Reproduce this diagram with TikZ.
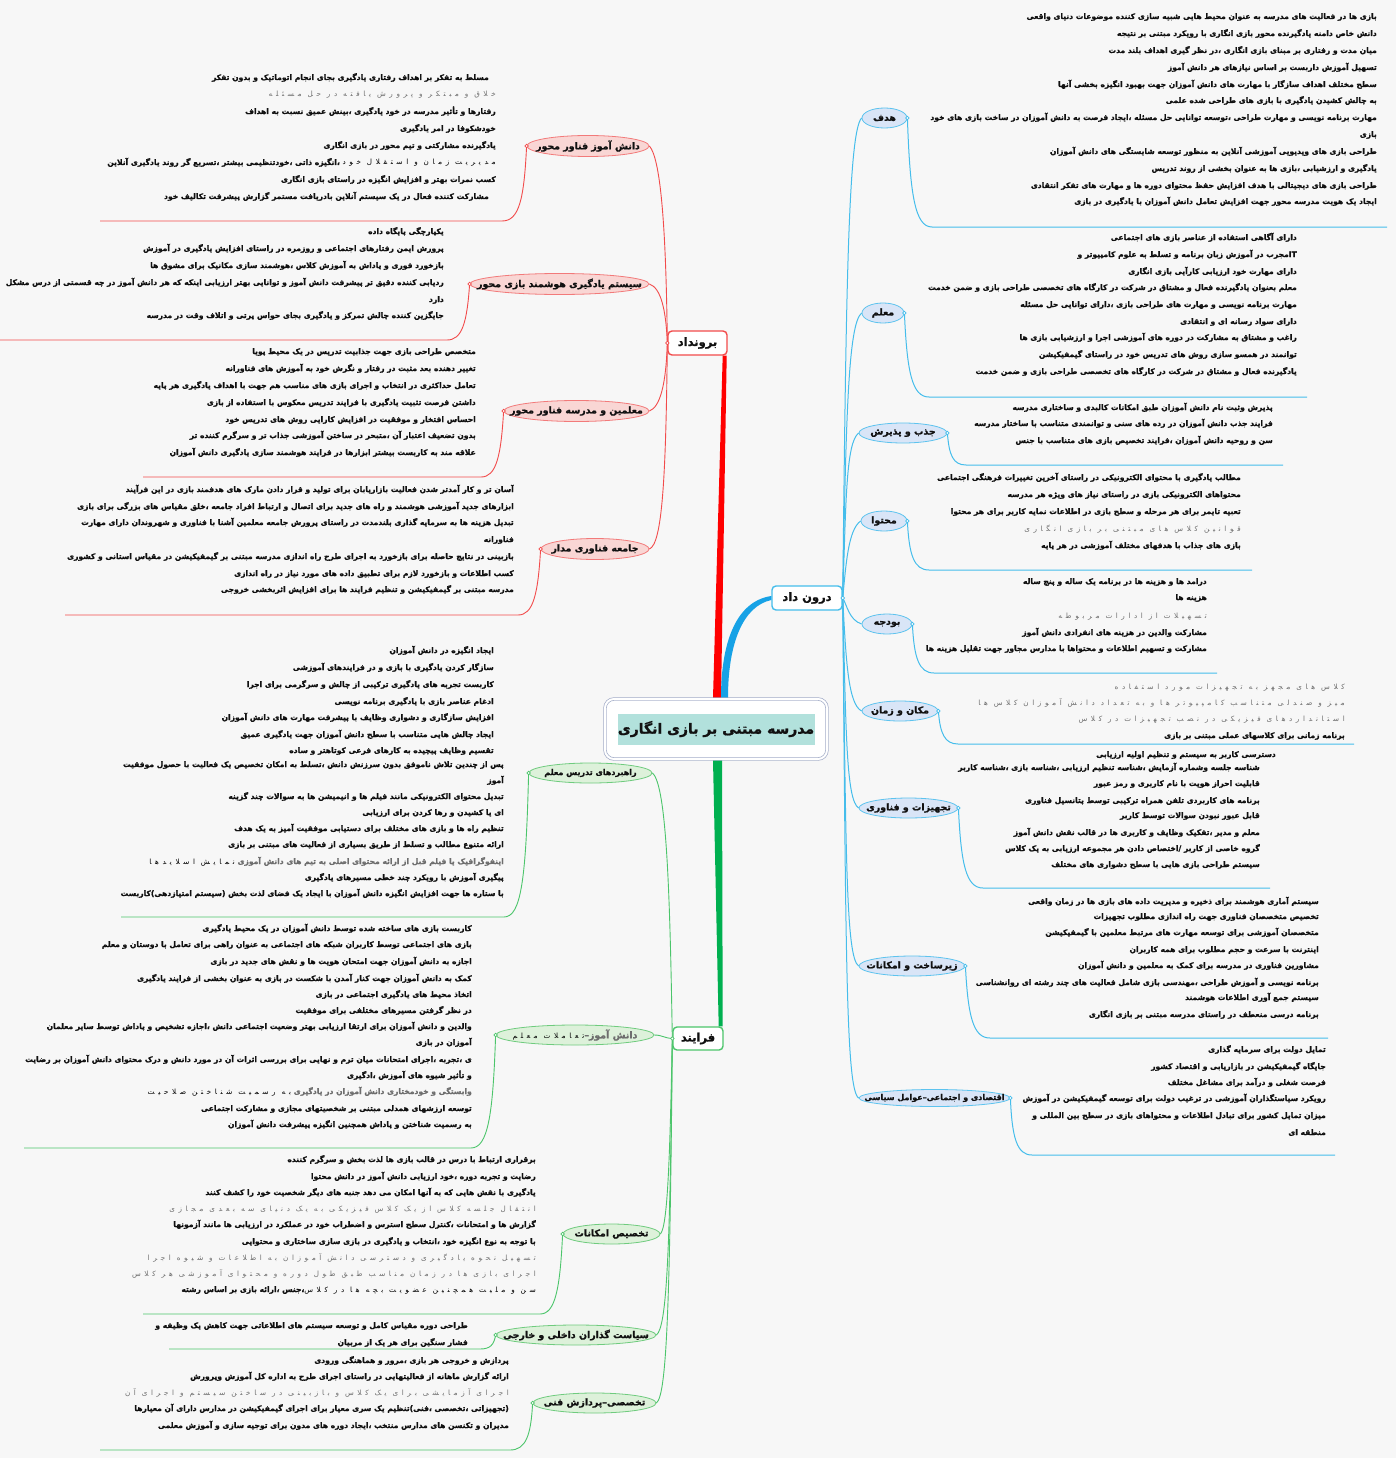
\documentclass[tikz,border=0pt]{standalone}
\usepackage{fontspec}
\usetikzlibrary{shapes.geometric}
\TeXXeTstate=1
\newfontfamily\fa[Script=Arabic,BoldFeatures={FakeBold=1.2}]{DejaVu Sans}
\newfontfamily\fagr[Script=Arabic,LetterSpace=50]{DejaVu Sans}
\newcommand\bodyf{\fa\bfseries\fontsize{7.6}{9}\selectfont}
\newcommand\grf{\fagr\mdseries\fontsize{7.2}{9}\selectfont}
\newcommand\labf{\fa\bfseries\fontsize{9.4}{10}\selectfont}
\newcommand\slabf{\fa\bfseries\fontsize{8}{9}\selectfont}
\newcommand\boxf{\fa\bfseries\fontsize{11.5}{12}\selectfont}
\newcommand\ttlf{\fa\bfseries\fontsize{14}{16}\selectfont}
\definecolor{bg}{HTML}{F7F7F7}
\definecolor{cRl}{HTML}{F24B4B}
\definecolor{cRt}{HTML}{FF0000}
\definecolor{cRf}{HTML}{F9D6D4}
\definecolor{cRb}{HTML}{F27A7A}
\definecolor{cBl}{HTML}{45BDEB}
\definecolor{cBt}{HTML}{17A2E6}
\definecolor{cBf}{HTML}{D9E5F7}
\definecolor{cBb}{HTML}{5DC3EE}
\definecolor{cGl}{HTML}{4CC56B}
\definecolor{cGt}{HTML}{00B050}
\definecolor{cGf}{HTML}{DDF1DA}
\definecolor{cGb}{HTML}{6FCB7E}
\definecolor{cCb}{HTML}{A3ADC8}
\definecolor{cTl}{HTML}{B2E1DC}
\definecolor{txt}{HTML}{111111}
\definecolor{txtg}{HTML}{6E6E6E}
\newcommand\gr[1]{{\grf\color{txtg}#1}}
\newcommand\Tx[4]{\node[tline] (#1) at (#2,#3) {#4};}
\newcommand\Gx[4]{\node[tline,grline] (#1) at (#2,#3) {#4};}
\tikzset{
  tline/.style={anchor=east, inner sep=0pt, text height=6.5pt, text depth=2.5pt, font=\bodyf, text=txt},
  grline/.style={font=\grf, text=txtg},
  elab/.style={inner sep=0pt, font=\labf, text=txt},
  rell/.style={ellipse, draw=cRb, fill=cRf, line width=0.8pt, inner sep=0pt, minimum height=21pt},
  bell/.style={ellipse, draw=cBb, fill=cBf, line width=0.8pt, inner sep=0pt, minimum height=20pt},
  gell/.style={ellipse, draw=cGb, fill=cGf, line width=0.8pt, inner sep=0pt, minimum height=20pt},
  rthin/.style={draw=cRl, line width=0.9pt},
  bthin/.style={draw=cBl, line width=1pt},
  gthin/.style={draw=cGl, line width=0.9pt},
  brbox/.style={draw, fill=white, rounded corners=4pt, line width=1.4pt, inner sep=0pt, font=\boxf, text=txt},
  dot/.style={fill=white, line width=0.7pt}
}
\begin{document}
\begin{tikzpicture}[x=1pt,y=-1pt]
\useasboundingbox (0,0) rectangle (1396,1458);
\fill[bg] (0,0) rectangle (1396,1458);

% ---------- main boxes ----------
\node[brbox, draw=cRl, minimum width=59pt, minimum height=24pt] (B) at (697.5,343) {\beginR برونداد\endR};
\node[brbox, draw=cBl, minimum width=70pt, minimum height=24pt] (D) at (807,598) {\beginR درون داد\endR};
\node[brbox, draw=cGl, minimum width=50pt, minimum height=23pt] (F) at (698,1038.5) {\beginR فرایند\endR};
\coordinate (ctrpos) at (716,729);
\path (ctrpos) node[minimum width=224pt, minimum height=62pt, inner sep=0pt] (ctr0) {};
\fill[cRt] ([xshift=-5pt]B.south east) -- ([xshift=-1pt]B.south east) -- ([xshift=5pt]ctr0.north) -- ([xshift=-3pt]ctr0.north) -- cycle;
\fill[cBt] ([xshift=5pt]ctr0.north) .. controls +(0,-58) and +(-34,5) .. ([yshift=2pt]D.west) -- ([yshift=-2pt]D.west) .. controls +(-28,6) and +(0,-55) .. ([xshift=12pt]ctr0.north) -- cycle;
\fill[cGt] ([xshift=-3pt]ctr0.south) -- ([xshift=6pt]ctr0.south) -- ([xshift=-1pt]F.north east) -- ([xshift=-5pt]F.north east) -- cycle;
\node[draw=cCb, double=white, double distance=2pt, line width=0.7pt, rounded corners=9pt, fill=white, minimum width=222pt, minimum height=60pt, inner sep=0pt] (ctr) at (ctrpos) {};
\node[fill=cTl, minimum width=197pt, minimum height=31pt, inner sep=0pt, font=\ttlf, text=txt] (ttl) at (ctrpos) {\beginR مدرسه مبتنی بر بازی انگاری\endR};

% ---------- ellipses ----------
\node[rell, minimum width=122pt] (r1) at (588,146) {};
\node[rell, minimum width=179pt] (r2) at (559.5,284) {};
\node[rell, minimum width=145pt] (r3) at (576.5,411) {};
\node[rell, minimum width=108pt] (r4) at (595,549) {};
\node[bell, minimum width=45pt] (b1) at (884.5,118) {};
\node[bell, minimum width=42pt] (b2) at (883,313) {};
\node[bell, minimum width=88pt] (b3) at (903,433) {};
\node[bell, minimum width=46pt] (b4) at (884,521) {};
\node[bell, minimum width=50pt] (b5) at (887,624) {};
\node[bell, minimum width=76pt] (b6) at (900,711) {};
\node[bell, minimum width=99pt] (b7) at (908.5,808) {};
\node[bell, minimum width=106pt] (b8) at (912,966) {};
\node[bell, minimum width=151pt, minimum height=17pt] (b9) at (934.5,1098) {};
\node[gell, minimum width=123pt] (g1) at (590.5,773) {};
\node[gell, minimum width=158pt] (g2) at (575,1035) {};
\node[gell, minimum width=97pt] (g3) at (611.5,1234) {};
\node[gell, minimum width=160pt] (g4) at (576,1335) {};
\node[gell, minimum width=123pt] (g5) at (594.5,1403) {};

% ---------- connectors from branch boxes ----------
\draw[rthin] (B.west) .. controls (666,220) and (660,158) .. (r1.east);
\draw[rthin] (B.west) .. controls (666,310) and (661,288) .. (r2.east);
\draw[rthin] (B.west) .. controls (666,385) and (660,407) .. (r3.east);
\draw[rthin] (B.west) .. controls (666,480) and (662,544) .. (r4.east);
\draw[bthin] (D.east) .. controls (846,300) and (848,132) .. (b1.west);
\draw[bthin] (D.east) .. controls (846,420) and (848,324) .. (b2.west);
\draw[bthin] (D.east) .. controls (846,500) and (846,443) .. (b3.west);
\draw[bthin] (D.east) .. controls (846,565) and (848,530) .. (b4.west);
\draw[bthin] (D.east) .. controls (847,605) and (849,620) .. (b5.west);
\draw[bthin] (D.east) .. controls (846,660) and (848,704) .. (b6.west);
\draw[bthin] (D.east) .. controls (846,730) and (846,800) .. (b7.west);
\draw[bthin] (D.east) .. controls (846,860) and (846,957) .. (b8.west);
\draw[bthin] (D.east) .. controls (846,960) and (846,1089) .. (b9.west);
\draw[gthin] (F.west) .. controls (670,900) and (667,785) .. (g1.east);
\draw[gthin] (F.west) .. controls (664,1038) and (662,1035) .. (g2.east);
\draw[gthin] (F.west) .. controls (670,1150) and (668,1226) .. (g3.east);
\draw[gthin] (F.west) .. controls (670,1250) and (667,1327) .. (g4.east);
\draw[gthin] (F.west) .. controls (670,1300) and (667,1395) .. (g5.east);

% ---------- tails (underlines) ----------
\coordinate (r1u) at (100,221); \coordinate (r2u) at (0,340);
\coordinate (r3u) at (143,477); \coordinate (r4u) at (65,615);
\draw[rthin] (r1.west) .. controls (524,200) and (519,221) .. (502,221) -- (r1u);
\draw[rthin] (r2.west) .. controls (467,323) and (462,340) .. (447,340) -- (r2u);
\draw[rthin] (r3.west) .. controls (501,457) and (496,477) .. (481,477) -- (r3u);
\draw[rthin] (r4.west) .. controls (538,595) and (533,615) .. (518,615) -- (r4u);
\coordinate (b1u) at (1387,227); \coordinate (b2u) at (1307,397);
\coordinate (b3u) at (1283,465); \coordinate (b4u) at (1252,570);
\coordinate (b5u) at (1217,673); \coordinate (b6u) at (1354,744);
\coordinate (b7u) at (1270,888); \coordinate (b8u) at (1328,1038);
\coordinate (b9u) at (1335,1155);
\draw[bthin] (b1.east) .. controls (910,195) and (915,227) .. (932,227) -- (b1u);
\draw[bthin] (b2.east) .. controls (907,372) and (912,397) .. (929,397) -- (b2u);
\draw[bthin] (b3.east) .. controls (949,455) and (953,465) .. (966,465) -- (b3u);
\draw[bthin] (b4.east) .. controls (909,555) and (914,570) .. (929,570) -- (b4u);
\draw[bthin] (b5.east) .. controls (914,658) and (919,673) .. (934,673) -- (b5u);
\draw[bthin] (b6.east) .. controls (940,734) and (945,744) .. (958,744) -- (b6u);
\draw[bthin] (b7.east) .. controls (961,864) and (966,888) .. (983,888) -- (b7u);
\draw[bthin] (b8.east) .. controls (968,1016) and (973,1038) .. (990,1038) -- (b8u);
\draw[bthin] (b9.east) .. controls (1012,1138) and (1017,1155) .. (1032,1155) -- (b9u);
\coordinate (g1u) at (121,917); \coordinate (g2u) at (24,1148);
\coordinate (g3u) at (143,1314); \coordinate (g4u) at (169,1349);
\coordinate (g5u) at (100,1450);
\draw[gthin] (g1.west) .. controls (526,880) and (521,917) .. (504,917) -- (g1u);
\draw[gthin] (g2.west) .. controls (493,1115) and (488,1148) .. (471,1148) -- (g2u);
\draw[gthin] (g3.west) .. controls (560,1290) and (555,1314) .. (540,1314) -- (g3u);
\draw[gthin] (g4.west) .. controls (494,1345) and (490,1349) .. (480,1349) -- (g4u);
\draw[gthin] (g5.west) .. controls (531,1435) and (526,1450) .. (510,1450) -- (g5u);

\foreach \n in {r1,r2,r3,r4} {\draw[dot,draw=cRl] (\n.west) circle (1.8pt);}
\foreach \n in {b1,b2,b3,b4,b5,b6,b7,b8,b9} {\draw[dot,draw=cBl] (\n.east) circle (1.8pt);}
\foreach \n in {g1,g2,g3,g4,g5} {\draw[dot,draw=cGl] (\n.west) circle (1.8pt);}
\draw[dot,draw=cRl] (B.west) circle (1.8pt);
\draw[dot,draw=cBl] (D.east) circle (1.8pt);
\draw[dot,draw=cGl] (F.west) circle (1.8pt);

% ---------- ellipse labels ----------
\node[elab] (r1t) at (r1.center) {\beginR دانش آموز فناور محور\endR};
\node[elab] (r2t) at (r2.center) {\beginR سیستم یادگیری هوشمند بازی محور\endR};
\node[elab] (r3t) at (r3.center) {\beginR معلمین و مدرسه فناور محور\endR};
\node[elab] (r4t) at (r4.center) {\beginR جامعه فناوری مدار\endR};
\node[elab] (b1t) at (b1.center) {\beginR هدف\endR};
\node[elab] (b2t) at (b2.center) {\beginR معلم\endR};
\node[elab] (b3t) at (b3.center) {\beginR جذب و پذیرش\endR};
\node[elab] (b4t) at (b4.center) {\beginR محتوا\endR};
\node[elab] (b5t) at (b5.center) {\beginR بودجه\endR};
\node[elab] (b6t) at (b6.center) {\beginR مکان و زمان\endR};
\node[elab] (b7t) at (b7.center) {\beginR تجهیزات و فناوری\endR};
\node[elab] (b8t) at (b8.center) {\beginR زیرساخت و امکانات\endR};
\node[elab, font=\slabf] (b9t) at (b9.center) {\beginR اقتصادی و اجتماعی\hbox{–}عوامل سیاسی\endR};
\node[elab, font=\slabf] (g1t) at (g1.center) {\beginR راهبردهای تدریس معلم\endR};
\node[elab] (g2t) at (g2.center) {\beginR دانش آموز\hbox{–}{\gr{تعاملات معلم}}\endR};
\node[elab] (g3t) at (g3.center) {\beginR تخصیص امکانات\endR};
\node[elab] (g4t) at (g4.center) {\beginR سیاست گذاران داخلی و خارجی\endR};
\node[elab] (g5t) at (g5.center) {\beginR تخصصی\hbox{–}پردازش فنی\endR};

% ---------- red texts ----------
\Tx{r1a}{489}{78}{\beginR مسلط به تفکر بر اهداف رفتاری یادگیری بجای انجام اتوماتیک و بدون تفکر\endR}
\Gx{r1b}{496}{95}{\beginR خلاق و مبتکر و پرورش یافته در حل مسئله\endR}
\Tx{r1c}{496}{112}{\beginR رفتارها و تأثیر مدرسه در خود یادگیری ،بینش عمیق نسبت به اهداف\endR}
\Tx{r1d}{496}{129}{\beginR خودشکوفا در امر یادگیری\endR}
\Tx{r1e}{496}{146}{\beginR یادگیرنده مشارکتی و تیم محور در بازی انگاری\endR}
\Tx{r1f}{496}{163}{\beginR \gr{مدیریت زمان و استقلال خود} ،انگیزه ذاتی ،خودتنظیمی بیشتر ،تسریع گر روند یادگیری آنلاین\endR}
\Tx{r1g}{496}{180}{\beginR کسب نمرات بهتر و افزایش انگیزه در راستای بازی انگاری\endR}
\Tx{r1h}{489}{197}{\beginR مشارکت کننده فعال در یک سیستم آنلاین بادریافت مستمر گزارش پیشرفت تکالیف خود\endR}

\Tx{r2a}{444}{232}{\beginR یکپارچگی پایگاه داده\endR}
\Tx{r2b}{444}{249}{\beginR پرورش ایمن رفتارهای اجتماعی و روزمره در راستای افزایش یادگیری در آموزش\endR}
\Tx{r2c}{444}{266}{\beginR بازخورد فوری و پاداش به آموزش کلاس ،هوشمند سازی مکانیک برای مشوق ها\endR}
\Tx{r2d}{444}{283}{\beginR ردیابی کننده دقیق تر پیشرفت دانش آموز و توانایی بهتر ارزیابی اینکه که هر دانش آموز در چه قسمتی از درس مشکل\endR}
\Tx{r2e}{444}{300}{\beginR دارد\endR}
\Tx{r2f}{444}{316}{\beginR جایگزین کننده چالش تمرکز و یادگیری بجای حواس پرتی و اتلاف وقت در مدرسه\endR}

\Tx{r3a}{476}{352}{\beginR متخصص طراحی بازی جهت جذابیت تدریس در یک محیط پویا\endR}
\Tx{r3b}{476}{369}{\beginR تغییر دهنده بعد مثبت در رفتار و نگرش خود به آموزش های فناورانه\endR}
\Tx{r3c}{476}{386}{\beginR تعامل حداکثری در انتخاب و اجرای بازی های مناسب هم جهت با اهداف یادگیری هر پایه\endR}
\Tx{r3d}{476}{403}{\beginR داشتن فرصت تثبیت یادگیری با فرایند تدریس معکوس با استفاده از بازی\endR}
\Tx{r3e}{476}{420}{\beginR احساس افتخار و موفقیت در افزایش کارایی روش های تدریس خود\endR}
\Tx{r3f}{476}{436}{\beginR بدون تضعیف اعتبار آن ،متبحر در ساختن آموزشی جذاب تر و سرگرم کننده تر\endR}
\Tx{r3g}{476}{453}{\beginR علاقه مند به کاربست بیشتر ابزارها در فرایند هوشمند سازی یادگیری دانش آموزان\endR}

\Tx{r4a}{514}{490}{\beginR آسان تر و کار آمدتر شدن فعالیت بازاریابان برای تولید و قرار دادن مارک های هدفمند بازی در این فرآیند\endR}
\Tx{r4b}{514}{507}{\beginR ابزارهای جدید آموزشی هوشمند و راه های جدید برای اتصال و ارتباط افراد جامعه ،خلق مقیاس های بزرگی برای بازی\endR}
\Tx{r4c}{514}{523}{\beginR تبدیل هزینه ها به سرمایه گذاری بلندمدت در راستای پرورش جامعه معلمین آشنا با فناوری و شهروندان دارای مهارت\endR}
\Tx{r4d}{514}{540}{\beginR فناورانه\endR}
\Tx{r4e}{514}{557}{\beginR بازبینی در نتایج حاصله برای بازخورد به اجرای طرح راه اندازی مدرسه مبتنی بر گیمفیکیشن در مقیاس استانی و کشوری\endR}
\Tx{r4f}{514}{574}{\beginR کسب اطلاعات و بازخورد لازم برای تطبیق داده های مورد نیاز در راه اندازی\endR}
\Tx{r4g}{514}{590}{\beginR مدرسه مبتنی بر گیمفیکیشن و تنظیم فرایند ها برای افزایش اثربخشی خروجی\endR}

% ---------- blue texts ----------
\Tx{b1a}{1377}{17}{\beginR بازی ها در فعالیت های مدرسه به عنوان محیط هایی شبیه سازی کننده موضوعات دنیای واقعی\endR}
\Tx{b1b}{1377}{34}{\beginR دانش خاص دامنه یادگیرنده محور بازی انگاری با رویکرد مبتنی بر نتیجه\endR}
\Tx{b1c}{1377}{51}{\beginR میان مدت و رفتاری بر مبنای بازی انگاری ،در نظر گیری اهداف بلند مدت\endR}
\Tx{b1d}{1377}{68}{\beginR تسهیل آموزش داربست بر اساس نیازهای هر دانش آموز\endR}
\Tx{b1e}{1377}{85}{\beginR سطح مختلف اهداف سازگار با مهارت های دانش آموزان جهت بهبود انگیزه بخشی آنها\endR}
\Tx{b1f}{1377}{101}{\beginR به چالش کشیدن یادگیری با بازی های طراحی شده علمی\endR}
\Tx{b1g}{1377}{118}{\beginR مهارت برنامه نویسی و مهارت طراحی ،توسعه توانایی حل مسئله ،ایجاد فرصت به دانش آموزان در ساخت بازی های خود\endR}
\Tx{b1h}{1377}{135}{\beginR بازی\endR}
\Tx{b1i}{1377}{152}{\beginR طراحی بازی های ویدیویی آموزشی آنلاین به منظور توسعه شایستگی های دانش آموزان\endR}
\Tx{b1j}{1377}{169}{\beginR یادگیری و ارزشیابی ،بازی ها به عنوان بخشی از روند تدریس\endR}
\Tx{b1k}{1377}{186}{\beginR طراحی بازی های دیجیتالی با هدف افزایش حفظ محتوای دوره ها و مهارت های تفکر انتقادی\endR}
\Tx{b1l}{1377}{202}{\beginR ایجاد یک هویت مدرسه محور جهت افزایش تعامل دانش آموزان با یادگیری در بازی\endR}

\Tx{b2a}{1297}{238}{\beginR دارای آگاهی استفاده از عناصر بازی های اجتماعی\endR}
\Tx{b2b}{1297}{255}{\beginR \hbox{IT}مجرب در آموزش زبان برنامه و تسلط به علوم کامپیوتر و\endR}
\Tx{b2c}{1297}{272}{\beginR دارای مهارت خود ارزیابی کارآیی بازی انگاری\endR}
\Tx{b2d}{1297}{288}{\beginR معلم بعنوان یادگیرنده فعال و مشتاق در شرکت در کارگاه های تخصصی طراحی بازی و ضمن خدمت\endR}
\Tx{b2e}{1297}{305}{\beginR مهارت برنامه نویسی و مهارت های طراحی بازی ،دارای توانایی حل مسئله\endR}
\Tx{b2f}{1297}{322}{\beginR دارای سواد رسانه ای و انتقادی\endR}
\Tx{b2g}{1297}{338}{\beginR راغب و مشتاق به مشارکت در دوره های آموزشی اجرا و ارزشیابی بازی ها\endR}
\Tx{b2h}{1297}{355}{\beginR توانمند در همسو سازی روش های تدریس خود در راستای گیمفیکیشن\endR}
\Tx{b2i}{1297}{372}{\beginR یادگیرنده فعال و مشتاق در شرکت در کارگاه های تخصصی طراحی بازی و ضمن خدمت\endR}

\Tx{b3a}{1273}{408}{\beginR پذیرش وثبت نام دانش آموزان طبق امکانات کالبدی و ساختاری مدرسه\endR}
\Tx{b3b}{1273}{424}{\beginR فرایند جذب دانش آموزان در رده های سنی و توانمندی متناسب با ساختار مدرسه\endR}
\Tx{b3c}{1273}{441}{\beginR سن و روحیه دانش آموزان ،فرایند تخصیص بازی های متناسب با جنس\endR}

\Tx{b4a}{1241}{478}{\beginR مطالب یادگیری با محتوای الکترونیکی در راستای آخرین تغییرات فرهنگی اجتماعی\endR}
\Tx{b4b}{1241}{495}{\beginR محتواهای الکترونیکی بازی در راستای نیاز های ویژه هر مدرسه\endR}
\Tx{b4c}{1241}{512}{\beginR تعبیه تایمر برای هر مرحله و سطح بازی در اطلاعات نمایه کاربر برای هر محتوا\endR}
\Gx{b4d}{1241}{529}{\beginR قوانین کلاس های مبتنی بر بازی انگاری\endR}
\Tx{b4e}{1241}{546}{\beginR بازی های جذاب با هدفهای مختلف آموزشی در هر پایه\endR}

\Tx{b5a}{1207}{582}{\beginR درامد ها و هزینه ها در برنامه یک ساله و پنج ساله\endR}
\Tx{b5b}{1207}{598}{\beginR هزینه ها\endR}
\Gx{b5c}{1207}{616}{\beginR تسهیلات از ادارات مربوطه\endR}
\Tx{b5d}{1207}{633}{\beginR مشارکت والدین در هزینه های انفرادی دانش آموز\endR}
\Tx{b5e}{1207}{649}{\beginR مشارکت و تسهیم اطلاعات و محتواها با مدارس مجاور جهت تقلیل هزینه ها\endR}

\Gx{b6a}{1345}{687}{\beginR کلاس های مجهز به تجهیزات مورد استفاده\endR}
\Gx{b6b}{1345}{703}{\beginR میز و صندلی متناسب کامپیوتر ها و به تعداد دانش آموزان کلاس ها\endR}
\Gx{b6c}{1345}{719}{\beginR استانداردهای فیزیکی در نصب تجهیزات در کلاس\endR}
\Tx{b6d}{1345}{736}{\beginR برنامه زمانی برای کلاسهای عملی مبتنی بر بازی\endR}

\Tx{b7a}{1276}{755}{\beginR دسترسی کاربر به سیستم و تنظیم اولیه ارزیابی\endR}
\Tx{b7b}{1260}{768}{\beginR شناسه جلسه وشماره آزمایش ،شناسه تنظیم ارزیابی ،شناسه بازی ،شناسه کاربر\endR}
\Tx{b7c}{1260}{784}{\beginR قابلیت احراز هویت با نام کاربری و رمز عبور\endR}
\Tx{b7d}{1260}{801}{\beginR برنامه های کاربردی تلفن همراه ترکیبی توسط پتانسیل فناوری\endR}
\Tx{b7e}{1260}{816}{\beginR قابل عبور نبودن سوالات توسط کاربر\endR}
\Tx{b7f}{1260}{833}{\beginR معلم و مدیر ،تفکیک وظایف و کاربری ها در قالب نقش دانش آموز\endR}
\Tx{b7g}{1260}{849}{\beginR گروه خاصی از کاربر /اختصاص دادن هر مجموعه ارزیابی به یک کلاس\endR}
\Tx{b7h}{1260}{865}{\beginR سیستم طراحی بازی هایی با سطح دشواری های مختلف\endR}

\Tx{b8a}{1319}{902}{\beginR سیستم آماری هوشمند برای ذخیره و مدیریت داده های بازی ها در زمان واقعی\endR}
\Tx{b8b}{1319}{917}{\beginR تخصیص متخصصان فناوری جهت راه اندازی مطلوب تجهیزات\endR}
\Tx{b8c}{1319}{933}{\beginR متخصصان آموزشی برای توسعه مهارت های مرتبط معلمین با گیمفیکیشن\endR}
\Tx{b8d}{1319}{950}{\beginR اینترنت با سرعت و حجم مطلوب برای همه کاربران\endR}
\Tx{b8e}{1319}{966}{\beginR مشاورین فناوری در مدرسه برای کمک به معلمین و دانش آموزان\endR}
\Tx{b8f}{1319}{983}{\beginR برنامه نویسی و آموزش طراحی ،مهندسی بازی شامل فعالیت های چند رشته ای روانشناسی\endR}
\Tx{b8g}{1319}{998}{\beginR سیستم جمع آوری اطلاعات هوشمند\endR}
\Tx{b8h}{1319}{1015}{\beginR برنامه درسی منعطف در راستای مدرسه مبتنی بر بازی انگاری\endR}

\Tx{b9a}{1326}{1050}{\beginR تمایل دولت برای سرمایه گذاری\endR}
\Tx{b9b}{1326}{1067}{\beginR جایگاه گیمفیکیشن در بازاریابی و اقتصاد کشور\endR}
\Tx{b9c}{1326}{1083}{\beginR فرصت شغلی و درآمد برای مشاغل مختلف\endR}
\Tx{b9d}{1326}{1099}{\beginR رویکرد سیاستگذاران آموزشی در ترغیب دولت برای توسعه گیمفیکیشن در آموزش\endR}
\Tx{b9e}{1326}{1116}{\beginR میزان تمایل کشور برای تبادل اطلاعات و محتواهای بازی در سطح بین المللی و\endR}
\Tx{b9f}{1326}{1133}{\beginR منطقه ای\endR}

% ---------- green texts ----------
\Tx{g1a}{494}{651}{\beginR ایجاد انگیزه در دانش آموزان\endR}
\Tx{g1b}{494}{668}{\beginR سازگار کردن یادگیری با بازی و در فرایندهای آموزشی\endR}
\Tx{g1c}{494}{685}{\beginR کاربست تجربه های یادگیری ترکیبی از چالش و سرگرمی برای اجرا\endR}
\Tx{g1d}{494}{702}{\beginR ادغام عناصر بازی با یادگیری برنامه نویسی\endR}
\Tx{g1e}{494}{718}{\beginR افزایش سازگاری و دشواری وظایف با پیشرفت مهارت های دانش آموزان\endR}
\Tx{g1f}{494}{735}{\beginR ایجاد چالش هایی متناسب با سطح دانش آموزان جهت یادگیری عمیق\endR}
\Tx{g1g}{494}{751}{\beginR تقسیم وظایف پیچیده به کارهای فرعی کوتاهتر و ساده\endR}
\Tx{g1h}{504}{765}{\beginR پس از چندین تلاش ناموفق بدون سرزنش دانش ،تسلط به امکان تخصیص یک فعالیت با حصول موفقیت\endR}
\Tx{g1i}{504}{781}{\beginR آموز\endR}
\Tx{g1j}{504}{797}{\beginR تبدیل محتوای الکترونیکی مانند فیلم ها و انیمیشن ها به سوالات چند گزینه\endR}
\Tx{g1k}{504}{813}{\beginR ای یا کشیدن و رها کردن برای ارزیابی\endR}
\Tx{g1l}{504}{829}{\beginR تنظیم راه ها و بازی های مختلف برای دستیابی موفقیت آمیز به یک هدف\endR}
\Tx{g1m}{504}{845}{\beginR ارائه متنوع مطالب و تسلط از طریق بسیاری از فعالیت های مبتنی بر بازی\endR}
\Tx{g1n}{504}{862}{\beginR اینفوگرافیک یا فیلم قبل از ارائه محتوای اصلی به تیم های دانش آموزی \gr{نمایش اسلایدها}\endR}
\Tx{g1o}{504}{878}{\beginR پیگیری آموزش با رویکرد چند خطی مسیرهای یادگیری\endR}
\Tx{g1p}{504}{894}{\beginR با ستاره ها جهت افزایش انگیزه دانش آموزان با ایجاد یک فضای لذت بخش \hbox{(}سیستم امتیازدهی\hbox{)}کاربست\endR}

\Tx{g2a}{472}{929}{\beginR کاربست بازی های ساخته شده توسط دانش آموزان در یک محیط یادگیری\endR}
\Tx{g2b}{472}{945}{\beginR بازی های اجتماعی توسط کاربران شبکه های اجتماعی به عنوان راهی برای تعامل با دوستان و معلم\endR}
\Tx{g2c}{472}{962}{\beginR اجازه به دانش آموزان جهت امتحان هویت ها و نقش های جدید در بازی\endR}
\Tx{g2d}{472}{979}{\beginR کمک به دانش آموزان جهت کنار آمدن با شکست در بازی به عنوان بخشی از فرایند یادگیری\endR}
\Tx{g2e}{472}{995}{\beginR اتخاذ محیط های یادگیری اجتماعی در بازی\endR}
\Tx{g2f}{472}{1011}{\beginR در نظر گرفتن مسیرهای مختلفی برای موفقیت\endR}
\Tx{g2g}{472}{1027}{\beginR والدین و دانش آموزان برای ارتقا ارزیابی بهتر وضعیت اجتماعی دانش ،اجازه تشخیص و پاداش توسط سایر معلمان\endR}
\Tx{g2h}{472}{1043}{\beginR آموزان در بازی\endR}
\Tx{g2i}{472}{1060}{\beginR ی ،تجربه ،اجرای امتحانات میان ترم و نهایی برای بررسی اثرات آن در مورد دانش و درک محتوای دانش آموزان بر رضایت\endR}
\Tx{g2j}{472}{1076}{\beginR و تأثیر شیوه های آموزش ،ادگیری\endR}
\Tx{g2k}{472}{1092}{\beginR وابستگی و خودمختاری دانش آموزان در یادگیری \gr{به رسمیت شناختن صلاحیت}\endR}
\Tx{g2l}{472}{1109}{\beginR توسعه ارزشهای همدلی مبتنی بر شخصیتهای مجازی و مشارکت اجتماعی\endR}
\Tx{g2m}{472}{1125}{\beginR به رسمیت شناختن و پاداش همچنین انگیزه پیشرفت دانش آموزان\endR}

\Tx{g3a}{536}{1160}{\beginR برقراری ارتباط با درس در قالب بازی ها لذت بخش و سرگرم کننده\endR}
\Tx{g3b}{536}{1177}{\beginR رضایت و تجربه دوره ،خود ارزیابی دانش آموز در دانش محتوا\endR}
\Tx{g3c}{536}{1193}{\beginR یادگیری با نقش هایی که به آنها امکان می دهد جنبه های دیگر شخصیت خود را کشف کنند\endR}
\Gx{g3d}{536}{1209}{\beginR انتقال جلسه کلاس از یک کلاس فیزیکی به یک دنیای سه بعدی مجازی\endR}
\Tx{g3e}{536}{1225}{\beginR گزارش ها و امتحانات ،کنترل سطح استرس و اضطراب خود در عملکرد در ارزیابی ها مانند آزمونها\endR}
\Tx{g3f}{536}{1242}{\beginR با توجه به نوع انگیزه خود ،انتخاب و یادگیری در بازی سازی ساختاری و محتوایی\endR}
\Gx{g3g}{536}{1258}{\beginR تسهیل نحوه یادگیری و دسترسی دانش آموزان به اطلاعات و شیوه اجرا\endR}
\Gx{g3h}{536}{1274}{\beginR اجرای بازی ها در زمان مناسب طبق طول دوره و محتوای آموزشی هر کلاس\endR}
\Tx{g3i}{536}{1290}{\beginR \gr{سن و ملیت همچنین عضویت بچه ها در کلاس}،جنس ،ارائه بازی بر اساس رشته\endR}

\Tx{g4a}{468}{1326}{\beginR طراحی دوره مقیاس کامل و توسعه سیستم های اطلاعاتی جهت کاهش یک وظیفه و\endR}
\Tx{g4b}{468}{1343}{\beginR فشار سنگین برای هر یک از مربیان\endR}

\Tx{g5a}{509}{1361}{\beginR پردازش و خروجی هر بازی ،مرور و هماهنگی ورودی\endR}
\Tx{g5b}{509}{1377}{\beginR ارائه گزارش ماهانه از فعالیتهایی در راستای اجرای طرح به اداره کل آموزش وپرورش\endR}
\Gx{g5c}{509}{1393}{\beginR اجرای آزمایشی برای یک کلاس و بازبینی در ساختن سیستم و اجرای آن\endR}
\Tx{g5d}{509}{1409}{\beginR \hbox{(}تجهیزاتی ،تخصصی ،فنی\hbox{)}تنظیم یک سری معیار برای اجرای گیمفیکیشن در مدارس دارای آن معیارها\endR}
\Tx{g5e}{509}{1426}{\beginR مدیران و تکنسن های مدارس منتخب ،ایجاد دوره های مدون برای توجیه سازی و آموزش معلمی\endR}
\end{tikzpicture}
\end{document}
